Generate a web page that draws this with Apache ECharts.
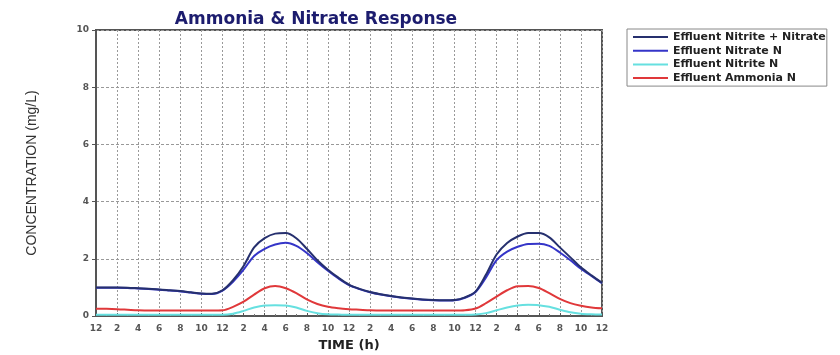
<!DOCTYPE html>
<html>
<head>
<meta charset="utf-8">
<script src="https://cdn.jsdelivr.net/npm/echarts@6/dist/echarts.min.js"></script>
<style>html,body{margin:0;padding:0;background:#fff}#c{width:840px;height:355px}</style>
</head>
<body>
<div id="c"></div>
<script>
const hours = [0,1,2,3,4,5,6,7,8,9,10,11,12,13,14,15,16,17,18,19,20,21,22,23,24,25,26,27,28,29,30,31,32,33,34,35,36,37,38,39,40,41,42,43,44,45,46,47,48];
const seriesNames = ['Effluent Nitrite + Nitrate','Effluent Nitrate N','Effluent Nitrite N','Effluent Ammonia N'];
const totalN = [1.00,1.00,1.00,0.99,0.97,0.95,0.93,0.90,0.87,0.83,0.79,0.78,0.90,1.25,1.75,2.40,2.72,2.88,2.90,2.72,2.35,1.95,1.62,1.34,1.10,0.95,0.84,0.76,0.70,0.65,0.61,0.58,0.56,0.55,0.56,0.65,0.85,1.45,2.15,2.55,2.78,2.90,2.90,2.75,2.40,2.05,1.70,1.42,1.16];
const nitrateN = [0.99,0.99,0.99,0.98,0.96,0.94,0.92,0.89,0.86,0.82,0.78,0.77,0.89,1.20,1.62,2.10,2.35,2.50,2.56,2.45,2.20,1.88,1.58,1.31,1.08,0.94,0.83,0.75,0.69,0.64,0.60,0.57,0.55,0.54,0.55,0.64,0.84,1.35,1.95,2.25,2.42,2.52,2.53,2.45,2.22,1.95,1.65,1.40,1.15];
const nitriteN = [0.04,0.04,0.04,0.04,0.04,0.04,0.04,0.04,0.04,0.04,0.04,0.04,0.04,0.08,0.18,0.30,0.37,0.38,0.37,0.30,0.18,0.10,0.06,0.05,0.04,0.04,0.04,0.04,0.04,0.04,0.04,0.04,0.04,0.04,0.04,0.04,0.05,0.10,0.20,0.30,0.37,0.39,0.38,0.32,0.22,0.13,0.08,0.06,0.05];
const ammoniaN = [0.25,0.25,0.24,0.22,0.20,0.19,0.19,0.19,0.19,0.19,0.19,0.19,0.20,0.32,0.50,0.75,0.97,1.05,0.97,0.80,0.58,0.42,0.32,0.27,0.24,0.22,0.20,0.19,0.19,0.19,0.19,0.19,0.19,0.19,0.19,0.20,0.26,0.45,0.68,0.90,1.04,1.05,0.98,0.80,0.60,0.45,0.36,0.30,0.27];
const yTicks = [0,2,4,6,8,10];

const colors = ['#26306e','#3535c8','#66e0e0','#e0383a'];
const values = [totalN, nitrateN, nitriteN, ammoniaN];
const font = '"DejaVu Sans", Verdana, sans-serif';
const fontNarrow = '"Liberation Sans", Arial, sans-serif';

const chart = echarts.init(document.getElementById('c'));
chart.setOption({
  animation: false,
  backgroundColor: '#fff',
  title: {
    text: 'Ammonia & Nitrate Response',
    left: 311, top: 6, textAlign: 'center',
    textStyle: {fontFamily: font, fontSize: 17, fontWeight: 'bold', color: '#1c1c6e'}
  },
  legend: {
    orient: 'vertical', left: 627, top: 29,
    data: seriesNames,
    icon: 'rect', itemWidth: 35, itemHeight: 2, itemGap: 1.7, itemStyle: {borderWidth: 0},
    padding: [2, 1, 2, 6],
    borderColor: '#888', borderWidth: 1,
    textStyle: {fontFamily: font, fontSize: 11, fontWeight: 'bold', color: '#222', lineHeight: 12}
  },
  grid: {left: 96, right: 238, top: 30, bottom: 39, show: true, borderColor: '#555', borderWidth: 2,
    backgroundColor: 'transparent', containLabel: false, outerBoundsMode: 'none'},
  xAxis: {
    type: 'value', min: 0, max: 48, interval: 2,
    name: 'TIME (h)', nameLocation: 'middle', nameGap: 23,
    nameTextStyle: {fontFamily: font, fontSize: 13, fontWeight: 'bold', color: '#222'},
    axisLine: {lineStyle: {color: '#555', width: 2}},
    axisTick: {show: true, inside: true, length: 3, lineStyle: {color: '#555'}},
    minorTick: {show: true, splitNumber: 2, length: 2, lineStyle: {color: '#777'}},
    axisLabel: {fontFamily: font, fontSize: 9, fontWeight: 'bold', color: '#555', margin: 8,
      formatter: v => { const h = v % 12; return String(h === 0 ? 12 : h); }},
    splitLine: {show: true, lineStyle: {color: '#999', type: [2, 2], width: 1}}
  },
  yAxis: {
    type: 'value', min: 0, max: 10, interval: 2,
    name: 'CONCENTRATION (mg/L)', nameLocation: 'middle', nameGap: 57,
    nameTextStyle: {fontFamily: fontNarrow, fontSize: 14, color: '#333'},
    axisLine: {show: true, lineStyle: {color: '#555', width: 2}},
    axisTick: {show: true, length: 4, lineStyle: {color: '#555'}},
    axisLabel: {fontFamily: font, fontSize: 9, fontWeight: 'bold', color: '#555', margin: 7,
      formatter: v => yTicks.includes(v) ? String(v) : ''},
    splitLine: {show: true, lineStyle: {color: '#999', type: [3, 2], width: 1}}
  },
  series: seriesNames.map((n, i) => ({
    name: n, type: 'line', smooth: 0.3, showSymbol: false,
    data: hours.map((h, k) => [h, values[i][k]]),
    lineStyle: {color: colors[i], width: 2},
    itemStyle: {color: colors[i]},
    z: 10 - i
  }))
});
</script>
</body>
</html>
